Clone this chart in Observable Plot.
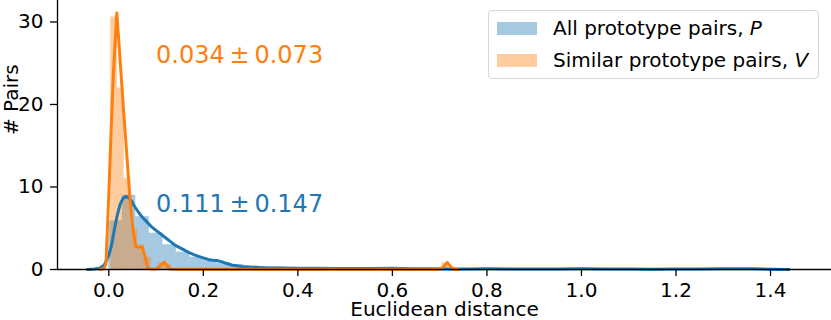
<!DOCTYPE html>
<html><head><meta charset="utf-8">
<script src="https://cdn.jsdelivr.net/npm/d3@7"></script>
<script src="https://cdn.jsdelivr.net/npm/@observablehq/plot@0.6"></script>
<style>
body{margin:0;background:#fff;font-family:"DejaVu Sans",sans-serif;}
#wrap{position:relative;width:831px;height:320px;overflow:hidden;}
#legend{position:absolute;left:488px;top:10px;width:331px;height:69px;border:1px solid #d6d6d6;border-radius:4px;background:rgba(255,255,255,0.8);font-size:20px;color:#000;box-sizing:border-box;}
.row{position:absolute;left:8px;height:24px;display:flex;align-items:center;white-space:nowrap;}
.sw{width:40px;height:13px;margin-right:16px;flex:none;}
</style></head><body><div id="wrap"></div>
<script>
// ---- data ----
const seriesNames = ["All prototype pairs, ", "Similar prototype pairs, "];
const seriesSymbols = ["P", "V"];
const seriesColors = ["#1f77b4", "#ff7f0e"];
const annotations = ["0.111\u2009\u00b1\u20090.147", "0.034\u2009\u00b1\u20090.073"];
const annotX = [0.1, 0.1];
const annotY = [7, 25];

// histogram of all pairs (bin start, bin width, heights)
const blueStart = 0.0, blueWidth = 0.0286;
const blueHist = [5.9, 9.0, 6.4, 4.4, 3.0, 2.1, 1.5, 1.05, 0.8, 0.6,
  0.45, 0.35, 0.3, 0.25, 0.22, 0.2, 0.18, 0.15, 0.15, 0.15,
  0.16, 0.14, 0.12, 0.1, 0.1, 0.09, 0.08, 0.08, 0.09, 0.08,
  0.07, 0.06, 0.06, 0.07, 0.08, 0.07, 0.06, 0.05, 0.05, 0.05,
  0.04, 0.05, 0.06, 0.08, 0.09, 0.08, 0.06, 0.05, 0.04, 0.03];
// histogram of similar pairs
const orangeStart = 0.004, orangeWidth = 0.0143;
const orangeHist = [30.6, 22.0, 11.0, 5.0, 3.0, 1.5, 0, 0.8, 0.6, 0,
  0, 0, 0, 0, 0, 0, 0, 0, 0, 0,
  0, 0, 0, 0, 0, 0, 0, 0, 0, 0,
  0, 0, 0, 0, 0, 0, 0, 0, 0, 0,
  0, 0, 0, 0, 0, 0, 0, 0, 0, 0.8];

// KDE curves
const blueKdeX = [-0.045, -0.03, -0.02, -0.01, 0.0, 0.006, 0.012, 0.018, 0.024, 0.03, 0.036, 0.042, 0.048, 0.054, 0.062, 0.07, 0.08, 0.09, 0.10, 0.11, 0.12, 0.13, 0.14, 0.15, 0.16, 0.17, 0.18, 0.19, 0.20, 0.21, 0.22, 0.23, 0.24, 0.25, 0.26, 0.28, 0.30, 0.33, 0.36, 0.40, 0.44, 0.48, 0.52, 0.56, 0.60, 0.64, 0.68, 0.72, 0.76, 0.80, 0.85, 0.90, 0.95, 1.00, 1.05, 1.10, 1.15, 1.20, 1.25, 1.30, 1.33, 1.36, 1.40, 1.44];
const blueKdeY = [0.0, 0.05, 0.15, 0.5, 1.7, 3.0, 4.9, 6.6, 7.9, 8.6, 8.85, 8.7, 8.3, 7.7, 7.0, 6.4, 5.8, 5.2, 4.75, 4.3, 3.85, 3.4, 2.95, 2.65, 2.35, 2.05, 1.8, 1.6, 1.4, 1.22, 1.12, 1.08, 0.92, 0.72, 0.55, 0.36, 0.28, 0.2, 0.17, 0.15, 0.16, 0.12, 0.11, 0.13, 0.15, 0.1, 0.08, 0.06, 0.07, 0.08, 0.06, 0.05, 0.06, 0.08, 0.07, 0.05, 0.04, 0.05, 0.06, 0.09, 0.1, 0.08, 0.04, 0.01];
const orangeKdeX = [-0.02, -0.01, -0.006, 0.0, 0.005, 0.01, 0.017, 0.025, 0.031, 0.036, 0.045, 0.051, 0.057, 0.064, 0.071, 0.077, 0.082, 0.09, 0.1, 0.11, 0.117, 0.124, 0.13, 0.14, 0.2, 0.3, 0.4, 0.5, 0.6, 0.70, 0.708, 0.716, 0.724, 0.732, 0.74];
const orangeKdeY = [0.0, 0.1, 0.7, 9.0, 17.0, 24.0, 31.1, 24.5, 19.5, 15.6, 8.4, 5.0, 2.8, 2.7, 2.7, 1.5, 0.2, 0.05, 0.05, 0.5, 0.9, 0.4, 0.05, 0.03, 0.02, 0.02, 0.02, 0.02, 0.02, 0.02, 0.3, 0.85, 0.3, 0.02, 0.0];

const xTicks = [0.0, 0.2, 0.4, 0.6, 0.8, 1.0, 1.2, 1.4];
const yTicks = [0, 10, 20, 30];
const xLabel = "Euclidean distance";
const yLabel = "# Pairs";

// ---- build ----
const blueBins = blueHist.map((h, i) => ({x1: blueStart + i * blueWidth, x2: blueStart + (i + 1) * blueWidth, y: h}));
const orangeBins = orangeHist.map((h, i) => ({x1: orangeStart + i * orangeWidth, x2: orangeStart + (i + 1) * orangeWidth, y: h}));
const blueKde = blueKdeX.map((x, i) => ({x, y: blueKdeY[i]}));
const orangeKde = orangeKdeX.map((x, i) => ({x, y: orangeKdeY[i]}));
const notes = annotations.map((t, i) => ({t, x: annotX[i], y: annotY[i], c: seriesColors[i]}));

const xDomain = [-0.1085, 1.529];
const yDomain = [0, 32.6];

const chart = Plot.plot({
  width: 831, height: 320,
  marginLeft: 57, marginRight: 0, marginTop: 0, marginBottom: 51,
  style: {fontFamily: "DejaVu Sans", fontSize: "20px", color: "#000", background: "white", overflow: "visible"},
  x: {domain: xDomain},
  y: {domain: yDomain},
  marks: [
    Plot.rectY(blueBins, {x1: "x1", x2: "x2", y: "y", fill: seriesColors[0], fillOpacity: 0.4}),
    Plot.rectY(orangeBins, {x1: "x1", x2: "x2", y: "y", fill: seriesColors[1], fillOpacity: 0.4}),
    Plot.line(blueKde, {x: "x", y: "y", stroke: seriesColors[0], strokeWidth: 3}),
    Plot.line(orangeKde, {x: "x", y: "y", stroke: seriesColors[1], strokeWidth: 3}),
    Plot.text(notes, {x: "x", y: "y", text: "t", fill: "c", fontSize: 24, textAnchor: "start", lineAnchor: "bottom"}),
    Plot.ruleY([0], {stroke: "#000", strokeWidth: 1.3}),
    Plot.ruleX([xDomain[0]], {stroke: "#000", strokeWidth: 1.3}),
    Plot.axisX({ticks: xTicks, tickSize: 7, tickPadding: 6, tickFormat: d => d.toFixed(1), label: null, fontSize: 20, strokeWidth: 1.3}),
    Plot.axisY({ticks: yTicks, tickSize: 7, tickPadding: 7, label: null, fontSize: 20, strokeWidth: 1.3}),
    Plot.text([xLabel], {frameAnchor: "bottom", dy: 40, text: d => d, fontSize: 20, lineAnchor: "middle"}),
    Plot.text([yLabel], {frameAnchor: "left", dx: -46, rotate: -90, text: d => d, fontSize: 20, lineAnchor: "middle"})
  ]
});
const wrap = document.getElementById("wrap");
wrap.appendChild(chart);

const legend = document.createElement("div");
legend.id = "legend";
seriesNames.forEach((name, i) => {
  const row = document.createElement("div");
  row.className = "row";
  row.style.top = (i === 0 ? 5 : 37) + "px";
  const sw = document.createElement("div");
  sw.className = "sw";
  sw.style.background = seriesColors[i];
  sw.style.opacity = 0.4;
  const label = document.createElement("span");
  label.append(name);
  const em = document.createElement("i");
  em.textContent = seriesSymbols[i];
  label.appendChild(em);
  row.appendChild(sw);
  row.appendChild(label);
  legend.appendChild(row);
});
wrap.appendChild(legend);
</script></body></html>
